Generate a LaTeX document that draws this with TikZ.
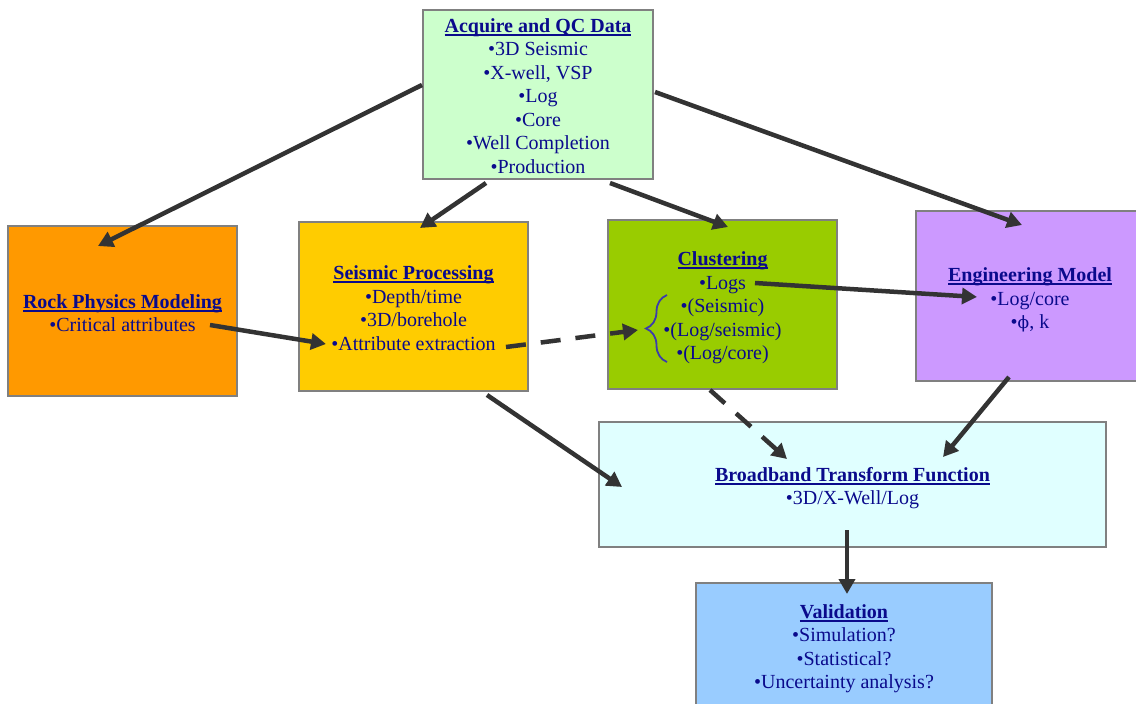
\documentclass[tikz,border=0pt]{standalone}
\usepackage{fontspec}
\setmainfont{Liberation Serif}
\newfontfamily\dvserif{DejaVu Serif}
\usetikzlibrary{arrows.meta,decorations.pathreplacing}
\definecolor{txt}{RGB}{10,10,140}
\definecolor{boxgray}{RGB}{128,128,128}
\definecolor{arrgray}{RGB}{51,51,51}
\definecolor{acqc}{RGB}{204,255,204}
\definecolor{rockc}{RGB}{255,153,0}
\definecolor{seisc}{RGB}{255,204,0}
\definecolor{clusc}{RGB}{153,204,0}
\definecolor{engc}{RGB}{204,153,255}
\definecolor{broadc}{RGB}{224,255,255}
\definecolor{validc}{RGB}{153,204,255}
\definecolor{bracec}{RGB}{60,60,170}
\newcommand\hdul[1]{\leavevmode\setbox0\hbox{#1}\rlap{\rule[-3.5pt]{\wd0}{1.8pt}}\box0}
\begin{document}
\begin{tikzpicture}[x=1pt,y=-1pt,
  box/.style={draw=boxgray, line width=1.8pt, inner sep=0pt},
  txtn/.style={align=center, text=txt, font=\fontsize{20}{23.5}\selectfont, inner sep=0pt},
  arr/.style={draw=arrgray, line width=4.5pt, -{Triangle[length=15pt,width=16pt]}},
  dsh/.style={arr, dash pattern=on 20pt off 15pt}]
\path[use as bounding box, fill=white] (0,0) rectangle (1136,704);

\node[box, fill=acqc, minimum width=230, minimum height=169] (acq) at (538,94.5) {};
\node[txtn] (acqT) at (538,96)
  {\hdul{\textbf{Acquire and QC Data}}\\•3D Seismic\\•X-well, VSP\\•Log\\•Core\\•Well Completion\\•Production};
\node[box, fill=rockc, minimum width=229, minimum height=170] (rock) at (122.5,311) {};
\node[txtn] (rockT) at (122.5,313)
  {\hdul{\textbf{Rock Physics Modeling}}\\•Critical attributes};
\node[box, fill=seisc, minimum width=229, minimum height=169] (seis) at (413.5,306.5) {};
\node[txtn] (seisT) at (413.5,308)
  {\hdul{\textbf{Seismic Processing}}\\•Depth/time\\•3D/borehole\\•Attribute extraction};
\node[box, fill=clusc, minimum width=229, minimum height=169] (clus) at (722.5,304.5) {};
\node[txtn] (clusT) at (722.5,308)
  {\hdul{\textbf{Clustering}}\\•Logs\\•(Seismic)\\•(Log/seismic)\\•(Log/core)};
\node[box, fill=engc, minimum width=228, minimum height=170] (eng) at (1030,296) {};
\node[txtn] (engT) at (1030,300)
  {\hdul{\textbf{Engineering Model}}\\•Log/core\\•{\dvserif\fontsize{17}{23.5}\selectfont ϕ}, k};
\node[box, fill=broadc, minimum width=507, minimum height=125] (broad) at (852.5,484.5) {};
\node[txtn] (broadT) at (852.5,488)
  {\hdul{\textbf{Broadband Transform Function}}\\•3D/X-Well/Log};
\node[box, fill=validc, minimum width=296, minimum height=127] (valid) at (844,646.5) {};
\node[txtn] (validT) at (844,648.5)
  {\hdul{\textbf{Validation}}\\•Simulation?\\•Statistical?\\•Uncertainty analysis?};

% brace
\coordinate (brtop) at (667,295);
\coordinate (brbot) at (667,362);
\draw[bracec, line width=1.8pt, decorate, decoration={brace, amplitude=21pt}] (brbot) -- (brtop);

% connector endpoints
\coordinate (a1s) at (422,85);   \coordinate (a1e) at (98,246);
\coordinate (a2s) at (486,183);  \coordinate (a2e) at (420,228);
\coordinate (a3s) at (610,183);  \coordinate (a3e) at (728,227);
\coordinate (a4s) at (655,92);   \coordinate (a4e) at (1022,225);
\coordinate (a5s) at (210,325);  \coordinate (a5e) at (326,344);
\coordinate (a6s) at (506,347);  \coordinate (a6e) at (638,330);
\coordinate (a7s) at (755,283);  \coordinate (a7e) at (977,297);
\coordinate (a8s) at (487,395);  \coordinate (a8e) at (622,487);
\coordinate (a9s) at (710,390);  \coordinate (a9e) at (787,459);
\coordinate (a10s) at (1009,377); \coordinate (a10e) at (943,457);
\coordinate (a11s) at (847,530); \coordinate (a11e) at (847,594);

\draw[arr] (a1s) -- (a1e);
\draw[arr] (a2s) -- (a2e);
\draw[arr] (a3s) -- (a3e);
\draw[arr] (a4s) -- (a4e);
\draw[arr] (a5s) -- (a5e);
\draw[dsh] (a6s) -- (a6e);
\draw[arr] (a7s) -- (a7e);
\draw[arr] (a8s) -- (a8e);
\draw[dsh] (a9s) -- (a9e);
\draw[arr] (a10s) -- (a10e);
\draw[arr] (a11s) -- (a11e);
\end{tikzpicture}
\end{document}
